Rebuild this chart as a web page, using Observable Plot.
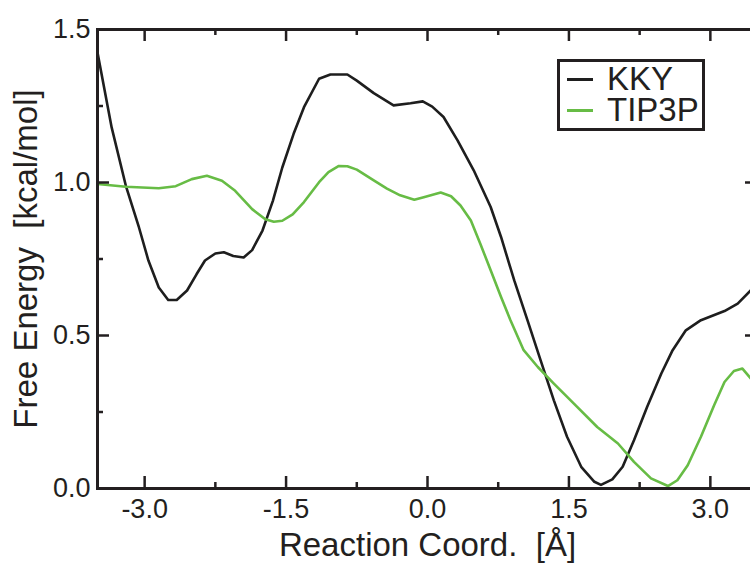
<!DOCTYPE html>
<html><head><meta charset="utf-8">
<script src="https://cdn.jsdelivr.net/npm/d3@7"></script>
<script src="https://cdn.jsdelivr.net/npm/@observablehq/plot@0.6"></script>
<style>
body{margin:0;background:#fff;}
#wrap{position:relative;width:750px;height:563px;overflow:hidden;background:#fff;font-family:"Liberation Sans",Arial,Helvetica,sans-serif;}
#legend{position:absolute;left:557px;top:59px;width:148px;height:72px;border:3px solid #231f20;box-sizing:border-box;background:#fff;}
.sw{position:absolute;left:7px;width:26px;height:3px;}
.lt{position:absolute;left:47px;font-size:33px;line-height:28px;height:28px;color:#231f20;white-space:nowrap;}
</style></head><body><div id="wrap"></div>
<script>
const kkyX = [-3.50,-3.35,-3.20,-3.06,-2.96,-2.85,-2.75,-2.66,-2.55,-2.45,-2.36,-2.25,-2.16,-2.06,-1.95,-1.86,-1.75,-1.64,-1.54,-1.42,-1.31,-1.15,-1.03,-0.85,-0.75,-0.57,-0.36,-0.18,-0.05,0.05,0.17,0.32,0.49,0.67,0.78,0.92,1.06,1.20,1.34,1.48,1.63,1.77,1.84,1.96,2.07,2.19,2.33,2.48,2.60,2.74,2.90,3.15,3.29,3.43,3.50];
const kkyY = [1.425,1.18,0.99,0.853,0.745,0.657,0.616,0.616,0.647,0.70,0.745,0.768,0.772,0.760,0.755,0.779,0.843,0.94,1.049,1.159,1.246,1.339,1.353,1.353,1.333,1.292,1.252,1.259,1.265,1.248,1.214,1.137,1.04,0.92,0.822,0.68,0.55,0.419,0.288,0.169,0.071,0.022,0.012,0.03,0.071,0.158,0.267,0.376,0.452,0.517,0.55,0.58,0.604,0.648,0.67];
const tipX = [-3.50,-3.20,-2.85,-2.67,-2.50,-2.34,-2.18,-2.04,-1.86,-1.72,-1.63,-1.54,-1.43,-1.31,-1.15,-1.05,-0.94,-0.85,-0.75,-0.57,-0.43,-0.29,-0.14,-0.04,0.14,0.25,0.35,0.46,0.56,0.67,0.78,0.88,1.02,1.17,1.34,1.55,1.80,2.02,2.19,2.37,2.55,2.65,2.76,2.90,3.04,3.15,3.25,3.34,3.43,3.50];
const tipY = [0.995,0.986,0.981,0.988,1.011,1.022,1.006,0.973,0.913,0.880,0.872,0.875,0.896,0.936,1.001,1.034,1.054,1.053,1.042,1.007,0.98,0.958,0.944,0.952,0.967,0.955,0.925,0.876,0.80,0.713,0.626,0.55,0.452,0.397,0.343,0.278,0.201,0.147,0.087,0.033,0.008,0.027,0.076,0.169,0.272,0.348,0.384,0.392,0.359,0.33];
const seriesNames = ["KKY", "TIP3P"];
const seriesColors = ["#1e1e1e", "#67bc45"];
const xTicks = [-3.0, -1.5, 0.0, 1.5, 3.0];
const xMinor = [-2.25, -0.75, 0.75, 2.25];
const yTicks = [0.0, 0.5, 1.0, 1.5];
const yMinor = [0.25, 0.75, 1.25];
const xTitle = "Reaction Coord.\u00a0 [Å]";
const yTitle = "Free Energy\u00a0 [kcal/mol]";

const data = [
  ...kkyX.map((x, i) => ({series: seriesNames[0], x, y: kkyY[i]})),
  ...tipX.map((x, i) => ({series: seriesNames[1], x, y: tipY[i]}))
];

const W = 750, H = 563, mL = 97, mR = -7, mT = 29, mB = 75;
const pw = W - mL - mR, ph = H - mT - mB;
const axisColor = "#231f20";
const font = "Liberation Sans, Arial, Helvetica, sans-serif";

const chart = Plot.plot({
  width: W, height: H,
  marginLeft: mL, marginRight: mR, marginTop: mT, marginBottom: mB,
  style: {fontFamily: font, background: "#fff", color: axisColor, overflow: "visible"},
  x: {domain: [-3.5, 3.5]},
  y: {domain: [0, 1.5]},
  color: {domain: seriesNames, range: seriesColors},
  marks: [
    Plot.line(data, {x: "x", y: "y", z: "series", stroke: "series", strokeWidth: 2.6, strokeLinejoin: "round"}),
    Plot.tickX(xTicks, {x: d => d, insetTop: ph - 12, stroke: axisColor, strokeWidth: 2.5}),
    Plot.tickX(xTicks, {x: d => d, insetBottom: ph - 12, stroke: axisColor, strokeWidth: 2.5}),
    Plot.tickX(xMinor, {x: d => d, insetTop: ph - 6, stroke: axisColor, strokeWidth: 2.5}),
    Plot.tickX(xMinor, {x: d => d, insetBottom: ph - 6, stroke: axisColor, strokeWidth: 2.5}),
    Plot.tickY(yTicks, {y: d => d, insetRight: pw - 12, stroke: axisColor, strokeWidth: 2.5}),
    Plot.tickY(yTicks, {y: d => d, insetLeft: pw - 12, stroke: axisColor, strokeWidth: 2.5}),
    Plot.tickY(yMinor, {y: d => d, insetRight: pw - 6, stroke: axisColor, strokeWidth: 2.5}),
    Plot.tickY(yMinor, {y: d => d, insetLeft: pw - 6, stroke: axisColor, strokeWidth: 2.5}),
    Plot.frame({stroke: axisColor, strokeWidth: 3}),
    Plot.axisX({ticks: xTicks, tickSize: 0, tickPadding: 10, tickFormat: d => d.toFixed(1), fontSize: 27, label: null, fill: axisColor}),
    Plot.axisY({ticks: yTicks, tickSize: 0, tickPadding: 7, tickFormat: d => d.toFixed(1), fontSize: 27, label: null, fill: axisColor}),
    Plot.text([xTitle], {text: d => d, frameAnchor: "bottom", textAnchor: "middle", lineAnchor: "top", dy: 44, fontSize: 33, fill: axisColor}),
    Plot.text([yTitle], {text: d => d, frameAnchor: "left", textAnchor: "middle", lineAnchor: "top", rotate: -90, dx: -84, fontSize: 33, fill: axisColor})
  ]
});

const wrap = document.getElementById("wrap");
wrap.appendChild(chart);

const legend = document.createElement("div");
legend.id = "legend";
seriesNames.forEach((name, i) => {
  const sw = document.createElement("div");
  sw.className = "sw";
  sw.style.top = (15.5 + i * 31) + "px";
  sw.style.background = seriesColors[i];
  legend.appendChild(sw);
  const t = document.createElement("div");
  t.className = "lt";
  t.style.top = (3.3 + i * 31) + "px";
  t.textContent = name;
  legend.appendChild(t);
});
wrap.appendChild(legend);
</script>
</body></html>
